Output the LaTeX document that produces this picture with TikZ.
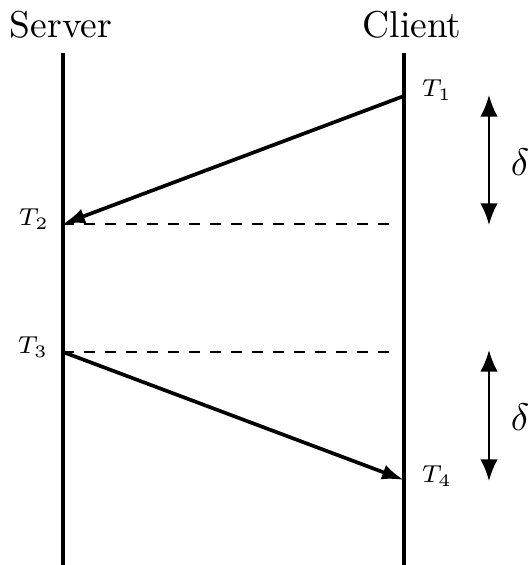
\documentclass[tikz,border=0pt]{standalone}
\usetikzlibrary{arrows.meta}
\begin{document}
\begin{tikzpicture}[x=0.2857pt,y=-0.2857pt,
  life/.style={line width=1.05pt},
  msg/.style={line width=1.05pt,-{Latex[length=6.3pt,width=4.4pt]}},
  dashline/.style={line width=0.3pt,dashed},
  delta/.style={line width=0.65pt,{Latex[length=6.2pt,width=5pt]}-{Latex[length=6.2pt,width=5pt]}},
  big/.style={font=\fontsize{10.7pt}{13pt}\selectfont,inner sep=0pt},
  tlab/.style={font=\scriptsize,inner sep=0pt}]
\useasboundingbox (0,0) rectangle (528,565);
\node[big,anchor=base] (server) at (61,38) {Server};
\node[big,anchor=base] (client) at (412,38) {Client};
\coordinate (stop) at (63,53);
\coordinate (sbot) at (63,565);
\coordinate (ctop) at (404,53);
\coordinate (cbot) at (404,565);
\draw[life] (stop) -- (sbot);
\draw[life] (ctop) -- (cbot);
\coordinate (c1) at (404,96);
\coordinate (s2) at (63,224);
\coordinate (s3) at (63,352);
\coordinate (c4) at (404,480);
\coordinate (d2) at (393,224);
\coordinate (d3) at (393,352);
\draw[msg] (c1) -- (s2);
\draw[msg] (s3) -- (c4);
\draw[dashline] (s2) -- (d2);
\draw[dashline] (s3) -- (d3);
\node[tlab] (t1) at (437,90) {$T_1$};
\node[tlab] (t2) at (34,219) {$T_2$};
\node[tlab] (t3) at (33,347) {$T_3$};
\node[tlab] (t4) at (437,476) {$T_4$};
\coordinate (a1) at (489,95);
\coordinate (a2) at (489,225);
\coordinate (a3) at (489,350);
\coordinate (a4) at (489,481);
\draw[delta] (a1) -- (a2);
\draw[delta] (a3) -- (a4);
\node[big] (dl1) at (520,162) {$\delta$};
\node[big] (dl2) at (520,417) {$\delta$};
\end{tikzpicture}
\end{document}
